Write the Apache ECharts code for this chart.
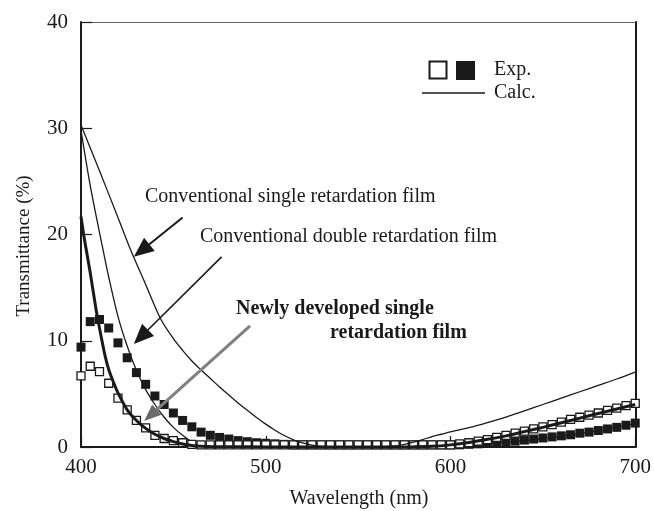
<!DOCTYPE html>
<html>
<head>
<meta charset="utf-8">
<script src="https://cdn.jsdelivr.net/npm/echarts@6/dist/echarts.min.js"></script>
<style>
html,body{margin:0;padding:0;background:#fff;}
#chart{width:654px;height:511px;}
</style>
</head>
<body>
<div id="chart"></div>
<script>
// ---- Data ----
const xTicks = [400, 500, 600, 700];
const yTicks = [0, 10, 20, 30, 40];

const expWavelength = [400,405,410,415,420,425,430,435,440,445,450,455,460,465,470,475,480,485,490,495,500,505,510,515,520,525,530,535,540,545,550,555,560,565,570,575,580,585,590,595,600,605,610,615,620,625,630,635,640,645,650,655,660,665,670,675,680,685,690,695,700];

// open squares
const expOpen = [6.7,7.6,7.1,6.0,4.6,3.5,2.5,1.8,1.1,0.8,0.6,0.4,0.25,0.2,0.2,
  0.2,0.2,0.2,0.2,0.2,0.2,0.2,0.2,0.2,0.2,0.2,0.2,0.2,0.2,0.2,0.2,0.2,0.2,0.2,0.2,0.2,0.2,0.2,0.2,0.2,
  0.2,0.3,0.4,0.55,0.7,0.9,1.1,1.3,1.5,1.7,1.9,2.1,2.35,2.6,2.8,3.0,3.2,3.45,3.65,3.9,4.1];

// filled squares
const expFilled = [9.4,11.8,12.0,11.2,9.8,8.4,7.0,5.9,4.8,4.0,3.2,2.5,1.9,1.4,1.1,0.9,0.75,0.6,0.5,0.4,0.35,0.3,0.25,
  0.2,0.2,0.2,0.2,0.2,0.2,0.2,0.2,0.2,0.2,0.2,0.2,0.2,0.2,0.2,0.2,0.2,
  0.2,0.2,0.25,0.3,0.35,0.4,0.5,0.55,0.65,0.75,0.85,0.95,1.05,1.15,1.3,1.4,1.55,1.7,1.85,2.05,2.25];

// calculated: newly developed single retardation film (thick)
const calcNewX = [400,402,405,408,410,413,415,418,420,425,430,435,440,445,450,455,460,465,470,480,500,550,580,590,600,610,620,630,640,650,660,670,680,690,700];
const calcNewY = [21.7,19.4,16.4,13.1,11.2,8.6,7.3,5.9,5.1,3.5,2.5,1.75,1.2,0.8,0.5,0.28,0.14,0.07,0.04,0.02,0.01,0.01,0.02,0.06,0.2,0.42,0.72,1.05,1.45,1.85,2.28,2.72,3.15,3.58,4.0];

// calculated: conventional double retardation film
const calcDoubleX = [400,405,410,412,415,420,425,430,435,440,445,450,455,460,465,470,480,500,550,590,600,620,640,660,680,700];
const calcDoubleY = [29.8,24.6,20.2,18.5,16.0,12.3,9.5,7.2,5.4,4.0,2.8,1.85,1.1,0.5,0.2,0.08,0.02,0.01,0.01,0.05,0.12,0.3,0.6,1.0,1.55,2.2];

// calculated: conventional single retardation film
const calcSingleX = [400,410,420,427,435,443,450,455,460,465,470,475,480,485,490,495,500,505,510,515,520,525,530,540,560,570,575,580,585,590,595,600,610,620,630,640,650,660,670,680,690,700];
const calcSingleY = [30.3,26.0,21.6,18.5,15.3,12.1,10.2,9.1,8.1,7.25,6.45,5.65,4.9,4.15,3.45,2.78,2.15,1.58,1.08,0.68,0.38,0.17,0.06,0.01,0.01,0.1,0.25,0.45,0.7,0.98,1.2,1.42,1.82,2.3,2.82,3.4,4.0,4.6,5.2,5.8,6.4,7.05];

const FONT = '"Liberation Serif", "DejaVu Serif", serif';
const INK = '#1a1a1a';

function zip(xs, ys) { return xs.map((x, i) => [x, ys[i]]); }

const chart = echarts.init(document.getElementById('chart'), null, {renderer: 'canvas'});

const axisLabelStyle = {fontFamily: FONT, fontSize: 21, color: INK};

chart.setOption({
  animation: false,
  backgroundColor: '#fff',
  grid: {left: 81, top: 22, width: 556, height: 425, containLabel: false},
  xAxis: [{
    type: 'value', min: xTicks[0], max: xTicks[xTicks.length - 1], interval: 100,
    position: 'bottom',
    axisLine: {show: true, onZero: false, lineStyle: {color: INK, width: 2}},
    axisTick: {show: true, inside: true, length: 11, lineStyle: {color: INK, width: 1.2}},
    axisLabel: Object.assign({margin: 10}, axisLabelStyle),
    splitLine: {show: false}
  }, {
    type: 'value', min: 400, max: 700, position: 'top',
    axisLine: {show: true, onZero: false, lineStyle: {color: '#666', width: 1}},
    axisTick: {show: false}, axisLabel: {show: false}, splitLine: {show: false}
  }],
  yAxis: [{
    type: 'value', min: yTicks[0], max: yTicks[yTicks.length - 1], interval: 10,
    position: 'left',
    axisLine: {show: true, onZero: false, lineStyle: {color: INK, width: 2}},
    axisTick: {show: true, inside: true, length: 11, lineStyle: {color: INK, width: 1.2}},
    axisLabel: Object.assign({margin: 13}, axisLabelStyle),
    splitLine: {show: false}
  }, {
    type: 'value', min: 0, max: 40, position: 'right',
    axisLine: {show: true, onZero: false, lineStyle: {color: INK, width: 2}},
    axisTick: {show: false}, axisLabel: {show: false}, splitLine: {show: false}
  }],
  series: [
    {
      name: 'Calc. conventional double', type: 'line', data: zip(calcDoubleX, calcDoubleY),
      showSymbol: false, smooth: 0.3, lineStyle: {color: INK, width: 1.3}, z: 2
    },
    {
      name: 'Exp. filled', type: 'scatter', data: zip(expWavelength, expFilled),
      symbol: 'rect', symbolSize: 9, itemStyle: {color: INK, opacity: 1}, z: 3
    },
    {
      name: 'Exp. open', type: 'scatter', data: zip(expWavelength, expOpen),
      symbol: 'rect', symbolSize: 8, itemStyle: {color: '#fff', borderColor: INK, borderWidth: 1.3, opacity: 1}, z: 4
    },
    {
      name: 'Calc. newly developed', type: 'line', data: zip(calcNewX, calcNewY),
      showSymbol: false, smooth: 0.3, lineStyle: {color: INK, width: 3}, z: 5
    },
    {
      name: 'Calc. conventional single', type: 'line', data: zip(calcSingleX, calcSingleY),
      showSymbol: false, smooth: 0.3, lineStyle: {color: INK, width: 1.3}, z: 5
    }
  ]
});

// ---- annotations ----
function px(p) { return chart.convertToPixel({gridIndex: 0}, p); }

function arrow(fromData, toData, color, width, headLen, headHalf, headColor) {
  const a = px(fromData), b = px(toData);
  const dx = b[0] - a[0], dy = b[1] - a[1];
  const L = Math.sqrt(dx * dx + dy * dy);
  const ux = dx / L, uy = dy / L;
  const bx = b[0] - ux * headLen, by = b[1] - uy * headLen;
  const nx = -uy, ny = ux;
  return [
    {type: 'line', shape: {x1: a[0], y1: a[1], x2: bx + ux * 2, y2: by + uy * 2},
     style: {stroke: color, lineWidth: width}, z: 10},
    {type: 'polygon', shape: {points: [[b[0], b[1]], [bx + nx * headHalf, by + ny * headHalf], [bx - nx * headHalf, by - ny * headHalf]]},
     style: {fill: headColor || color}, z: 10}
  ];
}

function txt(text, x, y, opts) {
  return Object.assign({
    type: 'text', x: x, y: y, z: 12,
    style: Object.assign({text: text, x: 0, y: 0, fontFamily: FONT, fontSize: 20, fill: INK,
      align: 'left', verticalAlign: 'middle'}, (opts && opts.style) || {})
  }, (opts && opts.el) || {});
}

const graphics = [];
// arrows
graphics.push(...arrow([455, 21.6], [428.6, 17.9], INK, 2, 20, 8.5));
graphics.push(...arrow([476.1, 17.9], [428.6, 9.7], INK, 1.6, 20, 8.5));
graphics.push(...arrow([491.5, 11.4], [434.2, 2.45], '#808080', 3, 17, 7, '#6a6a6a'));

// labels
graphics.push(txt('Conventional single retardation film', 145, 197));
graphics.push(txt('Conventional double retardation film', 200, 237));
graphics.push(txt('Newly developed single', 236, 309, {style: {fontWeight: 'bold'}}));
graphics.push(txt('retardation film', 330, 333, {style: {fontWeight: 'bold'}}));

// legend
graphics.push({type: 'rect', shape: {x: 429.5, y: 61.5, width: 17, height: 17}, style: {fill: '#fff', stroke: INK, lineWidth: 2}, z: 12});
graphics.push({type: 'rect', shape: {x: 456, y: 61, width: 19, height: 19}, style: {fill: INK}, z: 12});
graphics.push(txt('Exp.', 494, 70));
graphics.push({type: 'line', shape: {x1: 422, y1: 93, x2: 485, y2: 93}, style: {stroke: INK, lineWidth: 1.5}, z: 12});
graphics.push(txt('Calc.', 494, 93));

// axis titles
graphics.push(txt('Wavelength (nm)', 359, 499, {style: {align: 'center', fontSize: 20}}));
graphics.push(txt('Transmittance (%)', 24, 246, {style: {align: 'center', fontSize: 19}, el: {rotation: Math.PI / 2}}));

chart.setOption({graphic: {elements: graphics}});
</script>
</body>
</html>
